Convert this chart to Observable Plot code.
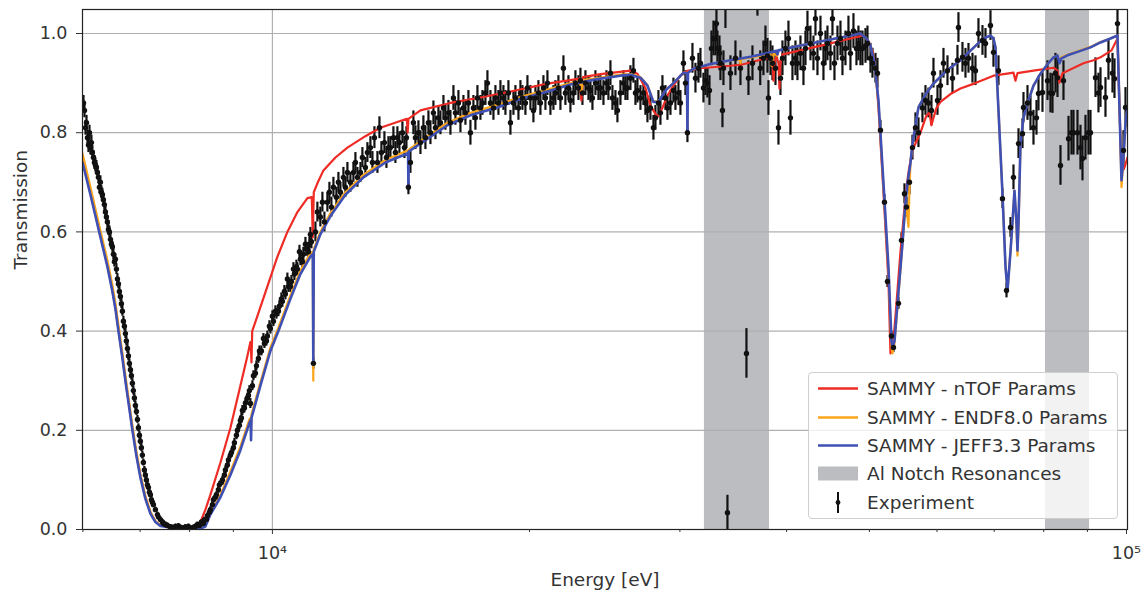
<!DOCTYPE html>
<html><head><meta charset="utf-8">
<script src="https://cdn.jsdelivr.net/npm/d3@7"></script>
<script src="https://cdn.jsdelivr.net/npm/@observablehq/plot@0.6"></script>
<style>
html,body{margin:0;padding:0;background:#fff;}
#wrap{position:relative;width:1147px;height:594px;font-family:"DejaVu Sans",sans-serif;}
#legend{position:absolute;left:808px;top:372px;width:310px;height:147px;background:rgba(255,255,255,0.8);border:1px solid #cfcfcf;border-radius:4px;box-sizing:border-box;}
.item{position:absolute;left:0;height:29px;width:300px;}
.item svg{position:absolute;left:4px;top:0;}
.item span{position:absolute;left:58px;top:0;line-height:29px;font-size:18.5px;color:#333;white-space:nowrap;}
</style></head><body><div id="wrap"></div>
<script>
// ---------------- data ----------------
const notchSpans = [[32050, 38190], [80380, 90510]]; // Al notch resonances [eV]
const yTicks = [0, 0.2, 0.4, 0.6, 0.8, 1.0];
const xMajorTicks = [1e4, 1e5];
const xMajorLabels = ["10\u2074", "10\u2075"];
const xMinorTicks = [6000, 7000, 8000, 9000, 20000, 30000, 40000, 50000, 60000, 70000, 80000, 90000];
const seriesNames = ["SAMMY - nTOF Params", "SAMMY - ENDF8.0 Params", "SAMMY - JEFF3.3 Params", "Al Notch Resonances", "Experiment"];

// Experiment [energy eV, transmission, error]
const expLow = [
[6009,0.86,0.015],[6025,0.845,0.015],[6042,0.81,0.015],[6058,0.82,0.015],[6074,0.79,0.015],[6090,0.775,0.015],
[6107,0.80,0.015],[6123,0.77,0.015],[6139,0.78,0.015],[6155,0.76,0.014],[6172,0.75,0.014],[6189,0.74,0.014],
[6205,0.735,0.014],[6222,0.73,0.014],[6239,0.72,0.014],[6256,0.71,0.013],[6273,0.69,0.013],[6289,0.70,0.013],
[6306,0.68,0.013],[6323,0.675,0.013],[6340,0.665,0.013],[6357,0.655,0.012],[6375,0.64,0.012],[6392,0.63,0.012],
[6409,0.62,0.012],[6427,0.605,0.012],[6444,0.60,0.012],[6462,0.585,0.012],[6479,0.575,0.011],[6496,0.57,0.011],
[6514,0.555,0.011],[6531,0.54,0.011],[6549,0.545,0.011],[6567,0.525,0.011],[6585,0.505,0.011],[6603,0.495,0.01],
[6620,0.48,0.01],[6638,0.47,0.01],[6656,0.455,0.01],[6674,0.44,0.01],[6692,0.42,0.01],[6710,0.41,0.01],
[6728,0.395,0.01],[6746,0.38,0.01],[6765,0.365,0.01],[6783,0.35,0.01],[6801,0.335,0.009],[6820,0.322,0.009],
[6838,0.31,0.009],[6856,0.295,0.009],[6874,0.28,0.009],[6893,0.265,0.009],[6912,0.25,0.009],[6931,0.238,0.008],
[6950,0.222,0.008],[6968,0.205,0.008],[6987,0.19,0.008],[7005,0.178,0.008],[7024,0.165,0.008],[7043,0.15,0.008],
[7062,0.135,0.007],[7081,0.12,0.007],[7100,0.11,0.007],[7120,0.10,0.007],[7139,0.09,0.007],[7158,0.085,0.006],
[7178,0.075,0.006],[7197,0.07,0.006],[7217,0.06,0.006],[7236,0.055,0.006],[7256,0.05,0.005],[7295,0.04,0.005],
[7335,0.03,0.005],[7355,0.025,0.005],[7395,0.02,0.005],[7434,0.015,0.005],[7454,0.012,0.005],[7495,0.01,0.005],
[7535,0.008,0.005],[7596,0.005,0.005],[7637,0.004,0.005],[7699,0.006,0.005],[7761,0.007,0.005],[7803,0.004,0.005],
[7866,0.003,0.005],[7909,0.005,0.005],[7973,0.006,0.005],[8016,0.003,0.005],[8082,0.004,0.005],[8125,0.006,0.005],
[8170,0.01,0.005],[8215,0.008,0.005],[8258,0.015,0.005],[8302,0.012,0.005],[8325,0.02,0.005],[8370,0.02,0.005],
[8392,0.028,0.005],[8438,0.035,0.006],[8460,0.04,0.006],[8506,0.05,0.006],[8529,0.06,0.006],[8575,0.065,0.006],
[8598,0.07,0.006],[8645,0.08,0.007],[8668,0.09,0.007],[8715,0.095,0.007],[8739,0.10,0.007],[8786,0.11,0.007],
[8810,0.12,0.008],[8857,0.13,0.008],[8882,0.14,0.008],[8930,0.15,0.008],[8954,0.155,0.008],[9002,0.165,0.009],
[9026,0.175,0.009],[9076,0.19,0.009],[9100,0.20,0.009],[9149,0.21,0.009],[9173,0.22,0.009],[9198,0.225,0.01],
[9223,0.24,0.01],[9273,0.245,0.01],[9298,0.255,0.01],[9348,0.265,0.01],[9374,0.27,0.01],[9399,0.28,0.01],
[9424,0.254,0.01],[9475,0.29,0.01],[9501,0.31,0.01],[9552,0.315,0.01],[9578,0.33,0.01],[9630,0.345,0.01],
[9656,0.36,0.01],[9708,0.36,0.01],[9761,0.385,0.01],[9787,0.375,0.01],[9840,0.38,0.01],[9866,0.39,0.01],
[9920,0.41,0.011],[9946,0.405,0.011],[10000,0.43,0.011],[10027,0.42,0.011],[10082,0.44,0.011],[10109,0.435,0.011],
[10163,0.44,0.011],[10190,0.45,0.011],[10245,0.465,0.012],[10273,0.46,0.012],[10328,0.48,0.012],[10356,0.475,0.012],
[10412,0.505,0.012],[10440,0.49,0.012],[10497,0.49,0.012],[10526,0.50,0.012],[10583,0.525,0.013],[10611,0.515,0.013],
[10669,0.53,0.013],[10697,0.525,0.013],[10756,0.56,0.013],[10784,0.545,0.013],[10842,0.54,0.013],[10871,0.555,0.014],
[10931,0.575,0.014],[10960,0.565,0.014],[11019,0.56,0.014],[11049,0.575,0.014],[11079,0.595,0.014],[11109,0.58,0.014],
[11169,0.335,0.012]
];
const expMid = [
[11230,0.60,0.02],[11289,0.64,0.02],[11380,0.63,0.02],[11443,0.66,0.02],[11505,0.62,0.02],[11598,0.66,0.02],
[11661,0.68,0.02],[11724,0.65,0.02],[11788,0.69,0.02],[11883,0.67,0.02],[11948,0.70,0.02],[12013,0.68,0.02],
[12110,0.71,0.02],[12175,0.69,0.02],[12241,0.72,0.02],[12340,0.70,0.02],[12441,0.72,0.02],[12508,0.74,0.02],
[12576,0.71,0.02],[12679,0.72,0.02],[12746,0.75,0.02],[12849,0.73,0.02],[12919,0.76,0.02],[13024,0.77,0.022],
[13095,0.74,0.022],[13166,0.79,0.022],[13273,0.74,0.022],[13345,0.81,0.022],[13416,0.76,0.022],[13525,0.78,0.022],
[13599,0.75,0.022],[13672,0.77,0.022],[13746,0.77,0.022],[13857,0.79,0.022],[13932,0.76,0.022],[14007,0.79,0.022],
[14083,0.78,0.022],[14198,0.80,0.022],[14275,0.77,0.022],[14352,0.79,0.022],[14430,0.69,0.015],[14508,0.74,0.022],
[14625,0.82,0.024],[14705,0.79,0.024],[14824,0.80,0.024],[14905,0.78,0.024],[15024,0.81,0.024],[15106,0.79,0.024],
[15229,0.82,0.024],[15312,0.80,0.024],[15436,0.84,0.024],[15519,0.81,0.024],[15645,0.83,0.024],[15730,0.82,0.024],
[15858,0.85,0.025],[15943,0.83,0.025],[16072,0.84,0.025],[16160,0.82,0.025],[16291,0.87,0.025],[16379,0.84,0.025],
[16512,0.86,0.025],[16602,0.825,0.025],[16736,0.85,0.025],[16827,0.84,0.025],[16963,0.86,0.025],[17055,0.80,0.025],
[17193,0.85,0.025],[17286,0.83,0.025],[17380,0.87,0.025],[17521,0.85,0.025],[17616,0.86,0.025],[17759,0.88,0.025],
[17855,0.90,0.025],[18000,0.86,0.025],[18146,0.85,0.025],[18244,0.87,0.025],[18392,0.86,0.025],[18492,0.88,0.025],
[18642,0.87,0.025],[18743,0.86,0.025],[18895,0.88,0.025],[18997,0.82,0.025],[19152,0.86,0.025],[19255,0.87,0.025],
[19412,0.85,0.025],[19517,0.88,0.025],[19622,0.87,0.025],[19781,0.86,0.025],[19888,0.89,0.025],[20050,0.87,0.025],
[20212,0.845,0.025],[20321,0.87,0.025],[20486,0.88,0.025],[20597,0.86,0.025],[20765,0.89,0.025],[20877,0.87,0.025],
[20990,0.90,0.025],[21160,0.86,0.025],[21332,0.87,0.025],[21447,0.88,0.025],[21621,0.89,0.025],[21738,0.87,0.025],
[21915,0.93,0.025],[22033,0.88,0.025],[22212,0.89,0.025],[22332,0.865,0.025],[22515,0.88,0.025],[22636,0.90,0.025],
[22821,0.89,0.025],[22944,0.905,0.025],[23068,0.88,0.025],[23255,0.90,0.025],[23444,0.89,0.025],[23570,0.885,0.025],
[23698,0.87,0.025],[23890,0.90,0.025],[24083,0.89,0.025],[24215,0.89,0.025],[24412,0.88,0.025],[24610,0.90,0.025],
[24741,0.89,0.025],[24877,0.92,0.025],[25011,0.87,0.025],[25214,0.86,0.025],[25349,0.845,0.025],[25555,0.88,0.025],
[25763,0.90,0.025],[25902,0.89,0.025],[26042,0.89,0.025],[26254,0.91,0.025],[26468,0.925,0.025],[26611,0.88,0.025],
[26755,0.885,0.025],[26972,0.87,0.025],[27191,0.88,0.025],[27338,0.86,0.025],[27486,0.845,0.025],[27709,0.85,0.025],
[27934,0.81,0.025],[28085,0.83,0.025],[28313,0.86,0.025],[28466,0.84,0.025],[28620,0.89,0.025],[28853,0.87,0.025],
[29009,0.85,0.025],[29245,0.86,0.025],[29481,0.885,0.025],[29641,0.87,0.025],[29882,0.88,0.025],[30043,0.86,0.025],
[30288,0.94,0.025],[30451,0.90,0.025],[30615,0.80,0.02]
];
const expHigh = [
[31032,0.95,0.03],[31284,0.91,0.03],[31537,0.93,0.03],[31708,0.94,0.03],[31966,0.89,0.03],[32139,0.905,0.03],
[32313,0.90,0.03],[32488,0.885,0.03],[32663,0.97,0.035],[32839,0.99,0.035],[33017,0.99,0.035],[33106,1.02,0.035],
[33195,0.97,0.035],[33375,0.96,0.035],[33465,0.94,0.035],[33646,0.845,0.035],[33737,0.93,0.035],[33919,1.055,0.045],
[34103,0.034,0.035],[34380,0.92,0.035],[34846,0.95,0.035],[35319,0.93,0.035],[35895,0.355,0.05],[36089,0.91,0.035],
[36481,0.94,0.035],[36976,1.08,0.045],[37254,0.93,0.035],[37579,0.95,0.035],[37782,0.98,0.035],[37987,0.955,0.035],
[38089,0.87,0.035],[38296,0.95,0.035],[38502,0.94,0.035],[38815,0.93,0.035],[39130,0.81,0.035],[39342,0.91,0.035],
[39554,0.95,0.035],[39875,0.97,0.035],[40199,0.99,0.035],[40417,0.83,0.035],[40635,0.94,0.035],[40965,0.95,0.035],
[41186,0.94,0.035],[41521,0.96,0.035],[41858,0.93,0.035],[42085,0.97,0.035],[42312,1.01,0.035],[42656,0.98,0.035],
[43002,0.96,0.035],[43235,1.03,0.035],[43469,0.95,0.035],[43822,1.00,0.035],[44177,0.94,0.035],[44417,0.97,0.035],
[44657,0.98,0.035],[45019,0.96,0.035],[45262,1.03,0.035],[45507,0.94,0.035],[45877,0.98,0.035],[46249,0.99,0.035],
[46499,0.95,0.035],[46876,0.97,0.035],[47256,1.00,0.035],[47512,0.96,0.035],[47899,1.005,0.035],[48287,0.97,0.035],
[48549,0.98,0.035],[48811,0.97,0.035],[49076,0.97,0.035],[49475,0.975,0.035],[49742,0.98,0.035],[50147,0.95,0.03],
[50418,0.94,0.03],[50827,0.93,0.03],[51102,0.92,0.03],[51517,0.805,0.02],[52075,0.66,0.015],[52498,0.50,0.012],
[53066,0.39,0.01],[53354,0.367,0.01],[54080,0.456,0.012],[54518,0.583,0.015],[54961,0.677,0.02],[55260,0.65,0.02],
[55711,0.70,0.025],[56158,0.77,0.025],[56613,0.81,0.03],[57073,0.80,0.03],[57693,0.85,0.03],[58161,0.865,0.03],
[58634,0.86,0.03],[59110,0.845,0.03],[59430,0.92,0.03],[60077,0.865,0.03],[60563,0.895,0.03],[61054,0.94,0.03],
[61718,0.925,0.03],[62554,0.91,0.03],[63400,0.946,0.03],[63571,1.012,0.03],[64263,0.952,0.03],[64785,0.94,0.03],
[65312,0.95,0.03],[66019,0.93,0.03],[66555,0.925,0.03],[67095,1.0,0.03],[67824,0.986,0.03],[68375,0.98,0.03],
[69302,1.016,0.03],[69865,0.962,0.03],[70815,0.925,0.03],[71582,0.667,0.02],[72363,0.482,0.015],[73143,0.609,0.02],
[73737,0.71,0.025],[74743,0.778,0.03],[75548,0.798,0.03],[75752,0.851,0.03],[76574,0.86,0.035],[77194,0.839,0.035],
[77822,0.81,0.035],[78455,0.83,0.035],[78880,0.879,0.035],[79733,0.881,0.04],[80820,0.905,0.04],[81470,0.88,0.04],
[81912,0.879,0.04],[82576,0.92,0.04],[83023,0.911,0.04],[83699,0.734,0.04],[84378,0.905,0.04],[85531,0.788,0.045],
[86217,0.80,0.045],[86684,0.80,0.045],[87626,0.80,0.045],[88334,0.77,0.045],[88813,0.748,0.045],[89534,0.79,0.045],
[90264,0.80,0.045],[90751,0.80,0.045],[91980,0.911,0.04],[92728,0.88,0.04],[93231,0.891,0.04],[94493,0.871,0.04],
[95258,0.946,0.04],[96296,0.92,0.04],[96817,0.909,0.04],[97604,1.02,0.04],[99195,0.764,0.04],[99731,0.851,0.04]
];

// SAMMY fits [energy eV, transmission]
const ntofCurve = [
[5993,0.743],[6123,0.678],[6289,0.593],[6409,0.533],[6496,0.483],[6549,0.448],[6603,0.403],[6674,0.348],[6746,0.288],
[6801,0.246],[6856,0.203],[6931,0.151],[7005,0.108],[7100,0.065],[7197,0.034],[7295,0.016],[7395,0.008],[7596,0.005],
[7803,0.003],[8016,0.002],[8125,0.003],[8235,0.015],[8347,0.04],
[8460,0.07],[8693,0.135],[8930,0.205],[9173,0.29],[9348,0.35],[9424,0.378],[9440,0.36],[9452,0.337],[9470,0.40],
[9603,0.43],[9866,0.49],[10136,0.55],[10412,0.60],[10697,0.64],[10990,0.668],[11120,0.67],[11150,0.589],[11180,0.68],
[11289,0.698],[11474,0.724],[11852,0.75],[12241,0.77],[12849,0.793],[13380,0.81],[14370,0.828],[14400,0.80],[14430,0.828],
[14905,0.845],[16160,0.86],[17521,0.871],[19255,0.885],[20990,0.899],[22900,0.909],[23000,0.865],[23100,0.912],
[24215,0.918],[25079,0.921],[26254,0.925],[26755,0.919],[27338,0.89],[27709,0.855],[28237,0.831],[28620,0.85],
[29009,0.875],[29481,0.895],[30043,0.915],[30615,0.925],[31708,0.93],[34380,0.935],[35250,0.937],[35320,0.927],
[35400,0.937],[38296,0.952],[38502,0.952],[38606,0.905],[38710,0.94],[38920,0.955],[39130,0.94],[39235,0.889],
[39342,0.94],[39554,0.958],[41521,0.966],[45019,0.98],[47512,0.99],[49208,0.996],[49876,0.985],[50418,0.965],
[50827,0.93],[51241,0.85],[51935,0.68],[52640,0.50],[52925,0.355],[53210,0.36],[53643,0.43],[54371,0.56],[55108,0.67],
[55559,0.72],[56158,0.765],[57383,0.80],[58318,0.835],[58792,0.84],[59110,0.815],[59430,0.83],[59916,0.85],[60563,0.862],
[62216,0.878],[63912,0.889],[66555,0.90],[69865,0.915],[73143,0.92],[73737,0.921],[74136,0.905],[74536,0.92],
[77822,0.925],[82133,0.931],[83023,0.925],[83473,0.901],[84151,0.92],[89053,0.94],[91500,0.946],[93231,0.952],
[96040,0.966],[97604,0.99],[98129,0.85],[98661,0.72],[99462,0.73],[100273,0.75]
];
const endfCurve = [
[5993,0.758],[6123,0.69],[6289,0.603],[6409,0.543],[6496,0.493],[6549,0.457],[6603,0.412],[6674,0.356],[6746,0.296],
[6801,0.253],[6856,0.21],[6931,0.157],[7005,0.112],[7100,0.068],[7197,0.036],[7295,0.017],[7395,0.008],[7596,0.004],
[7803,0.002],[8016,0.001],[8235,0.003],[8347,0.008],[8460,0.033],
[8693,0.07],[8930,0.117],[9173,0.167],[9399,0.222],[9430,0.225],[9440,0.2],[9452,0.232],[9682,0.297],[9946,0.367],
[10163,0.407],[10497,0.472],[10784,0.522],[11079,0.557],[11150,0.56],[11165,0.30],[11180,0.565],[11380,0.60],
[11694,0.638],[12175,0.68],[12780,0.715],[13562,0.745],[14391,0.764],[14415,0.765],[14430,0.72],[14445,0.766],
[15106,0.79],[16029,0.82],[17055,0.84],[18343,0.856],[19517,0.872],[20990,0.887],[22332,0.90],[22900,0.904],
[23000,0.88],[23100,0.906],[24017,0.91],[25555,0.917],[26254,0.918],[26972,0.912],[27486,0.896],[27934,0.863],
[28313,0.863],[28853,0.886],[29481,0.90],[30288,0.921],[30570,0.92],[30615,0.81],[30660,0.921],[31116,0.929],
[32576,0.938],[34380,0.946],[35250,0.948],[35320,0.94],[35400,0.949],[36287,0.952],[38089,0.958],[38300,0.96],
[38400,0.935],[38502,0.945],[38606,0.96],[39020,0.955],[39130,0.966],[41521,0.976],[45019,0.988],[47512,0.996],
[48811,1.0],[49608,0.99],[50147,0.975],[50692,0.94],[51241,0.86],[51935,0.69],[52640,0.52],[53066,0.37],[53210,0.355],
[53499,0.375],[53934,0.45],[54665,0.575],[55108,0.66],[55409,0.63],[55559,0.61],[55710,0.69],[55860,0.74],[56158,0.778],
[57073,0.851],[58161,0.877],[59430,0.899],[61547,0.925],[63912,0.946],[66555,0.975],[68007,0.99],[69302,0.996],
[69865,0.99],[70243,0.972],[70815,0.845],[71582,0.677],[72167,0.53],[72557,0.482],[73143,0.56],[73538,0.62],
[73935,0.683],[74335,0.61],[74536,0.552],[74743,0.61],[75145,0.775],[75752,0.83],[76574,0.859],[77822,0.895],
[79304,0.919],[80820,0.938],[82133,0.952],[83023,0.956],[83473,0.945],[83926,0.952],[85301,0.957],[88334,0.966],
[90751,0.973],[93231,0.983],[95776,0.99],[97604,0.996],[98129,0.86],[98661,0.69],[99195,0.75],[99731,0.82],[100273,0.85]
];
const jeffCurve = [
[5993,0.740],[6123,0.675],[6289,0.59],[6409,0.53],[6496,0.48],[6549,0.445],[6603,0.40],[6674,0.345],[6746,0.285],
[6801,0.243],[6856,0.20],[6931,0.148],[7005,0.105],[7100,0.062],[7197,0.032],[7295,0.015],[7395,0.007],[7596,0.004],
[7803,0.002],[8016,0.001],[8235,0.002],[8347,0.006],[8460,0.03],
[8693,0.065],[8930,0.11],[9173,0.16],[9399,0.215],[9430,0.22],[9440,0.18],[9452,0.225],[9682,0.29],[9946,0.36],
[10163,0.40],[10497,0.465],[10784,0.515],[11079,0.55],[11150,0.555],[11165,0.335],[11180,0.56],[11380,0.595],
[11694,0.632],[12175,0.675],[12780,0.71],[13562,0.74],[14391,0.758],[14415,0.76],[14430,0.69],[14445,0.762],
[15106,0.785],[16029,0.815],[17055,0.835],[18343,0.851],[19517,0.868],[20990,0.883],[22332,0.897],[24017,0.908],
[25555,0.915],[26254,0.917],[26972,0.911],[27486,0.895],[27934,0.862],[28313,0.862],[28853,0.885],[29481,0.90],
[30288,0.921],[30570,0.92],[30615,0.804],[30660,0.921],[31116,0.929],[32488,0.938],[34380,0.946],[36287,0.953],
[38296,0.962],[38920,0.965],[39020,0.958],[39130,0.966],[41521,0.976],[45019,0.988],[47512,0.996],[48811,1.0],
[49608,0.99],[50147,0.975],[50692,0.94],[51241,0.865],[51935,0.698],[52640,0.528],[53066,0.38],[53210,0.367],
[53499,0.38],[53934,0.455],[54665,0.577],[55108,0.66],[55409,0.698],[55860,0.74],[56158,0.778],[57073,0.851],
[58161,0.877],[59430,0.899],[61547,0.925],[63912,0.946],[66555,0.975],[68007,0.99],[69302,0.996],[69865,0.99],
[70243,0.972],[70815,0.845],[71582,0.677],[72167,0.53],[72557,0.482],[73143,0.56],[73538,0.62],[73935,0.683],
[74335,0.62],[74536,0.5625],[74743,0.62],[75145,0.778],[75752,0.83],[76574,0.859],[77822,0.895],[79304,0.919],
[80820,0.938],[82133,0.952],[83023,0.956],[83473,0.94],[83926,0.95],[85301,0.956],[88334,0.965],[90751,0.972],
[93231,0.982],[95776,0.99],[97604,0.996],[98129,0.85],[98661,0.704],[99195,0.75],[99731,0.82],[100273,0.85]
];

const colors = {ntof: "#ee2b24", endf: "#fba51a", jeff: "#3e50b4", notch: "#bcbdc1", exp: "#111111"};

// ---------------- chart ----------------
const experiment = [...expLow, ...expMid, ...expHigh];
const X = d => d[0], Y = d => d[1];

const chart = Plot.plot({
  width: 1147, height: 594,
  marginLeft: 82, marginRight: 20, marginTop: 9, marginBottom: 65,
  style: {fontFamily: "DejaVu Sans", color: "#333", background: "white", overflow: "visible"},
  x: {type: "log", domain: [5993, 100273]},
  y: {domain: [0, 1.0484]},
  marks: [
    Plot.rect(notchSpans, {x1: d => d[0], x2: d => d[1], fill: colors.notch}),
    Plot.gridY(yTicks, {stroke: "#b0b0b0", strokeOpacity: 1, strokeWidth: 1.2}),
    Plot.gridX([1e4], {stroke: "#b0b0b0", strokeOpacity: 1, strokeWidth: 1.2}),
    Plot.ruleX(experiment, {x: X, y1: d => d[1] - d[2], y2: d => d[1] + d[2], stroke: colors.exp, strokeWidth: 2.2, clip: true}),
    Plot.line(ntofCurve, {x: X, y: Y, stroke: colors.ntof, strokeWidth: 2.2, clip: true}),
    Plot.line(endfCurve, {x: X, y: Y, stroke: colors.endf, strokeWidth: 2.2, clip: true}),
    Plot.line(jeffCurve, {x: X, y: Y, stroke: colors.jeff, strokeWidth: 2.6, clip: true}),
    Plot.dot(experiment, {x: X, y: Y, r: 2.7, fill: colors.exp, clip: true}),
    Plot.frame({stroke: "#222", strokeWidth: 1.2}),
    Plot.axisY(yTicks, {tickFormat: d3.format(".1f"), tickSize: 6, tickPadding: 9, fontSize: 17.5, label: null, stroke: "#333"}),
    Plot.axisX(xMajorTicks, {tickFormat: d => xMajorLabels[xMajorTicks.indexOf(d)], tickSize: 5, tickPadding: 12, fontSize: 17.5, label: null, stroke: "#333"}),
    Plot.axisX(xMinorTicks, {tickFormat: () => "", tickSize: 3, label: null, stroke: "#333"}),
    Plot.text(["Energy [eV]"], {text: d => d, frameAnchor: "bottom", dy: 56, fontSize: 18.5, fill: "#333"}),
    Plot.text(["Transmission"], {text: d => d, frameAnchor: "left", dx: -61, rotate: -90, fontSize: 18.5, fill: "#333"})
  ]
});

const wrap = document.getElementById("wrap");
wrap.appendChild(chart);

// legend
const legend = document.createElement("div");
legend.id = "legend";
const handles = [
  `<line x1="5" x2="45" y1="14.5" y2="14.5" stroke="${colors.ntof}" stroke-width="2.4"/>`,
  `<line x1="5" x2="45" y1="14.5" y2="14.5" stroke="${colors.endf}" stroke-width="2.4"/>`,
  `<line x1="5" x2="45" y1="14.5" y2="14.5" stroke="${colors.jeff}" stroke-width="2.6"/>`,
  `<rect x="5" y="7.5" width="40" height="14" fill="${colors.notch}"/>`,
  `<line x1="25" x2="25" y1="4" y2="25" stroke="${colors.exp}" stroke-width="2"/><circle cx="25" cy="14.5" r="2.4" fill="${colors.exp}"/>`
];
const tops = [1, 29.5, 57.5, 86, 115];
seriesNames.forEach((name, i) => {
  const it = document.createElement("div");
  it.className = "item";
  it.style.top = tops[i] + "px";
  it.innerHTML = `<svg width="50" height="29">${handles[i]}</svg><span>${name}</span>`;
  legend.appendChild(it);
});
wrap.appendChild(legend);
</script></body></html>
